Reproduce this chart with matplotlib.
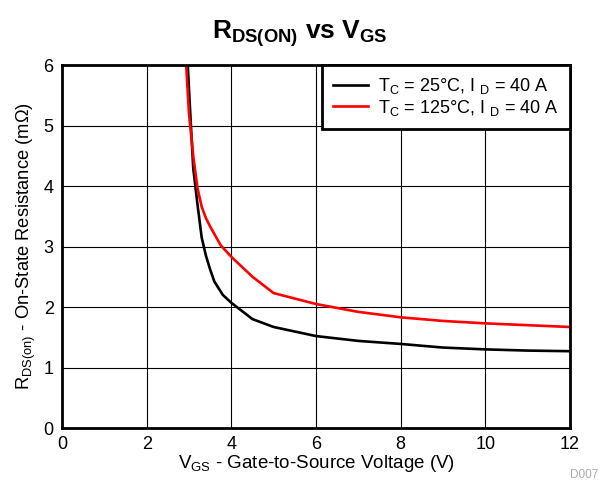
import matplotlib
matplotlib.use('Agg')
import matplotlib.pyplot as plt

# Data
vgs_25 = [2.9, 3.0, 3.1, 3.2, 3.3, 3.4, 3.5, 3.6, 3.8, 4.0, 4.5, 5, 6, 7, 8, 9, 10, 11, 12]
rds_25 = [7.0, 5.6, 4.3, 3.7, 3.15, 2.85, 2.62, 2.42, 2.2, 2.07, 1.8, 1.67, 1.52, 1.44, 1.39, 1.33, 1.30, 1.28, 1.27]

vgs_125 = [2.85, 2.95, 3.0, 3.1, 3.2, 3.3, 3.4, 3.5, 3.75, 4.0, 4.5, 5, 6, 7, 8, 9, 10, 11, 12]
rds_125 = [7.0, 5.8, 5.2, 4.5, 3.97, 3.66, 3.47, 3.33, 3.02, 2.83, 2.5, 2.23, 2.05, 1.92, 1.83, 1.77, 1.73, 1.70, 1.67]

x_ticks = [0, 2, 4, 6, 8, 10, 12]
y_ticks = [0, 1, 2, 3, 4, 5, 6]

plt.rcParams['font.family'] = ['Liberation Sans', 'DejaVu Sans']
plt.rcParams['mathtext.fontset'] = 'custom'
plt.rcParams['mathtext.rm'] = 'Liberation Sans'
plt.rcParams['mathtext.bf'] = 'Liberation Sans:bold'

fig = plt.figure(figsize=(6, 4.82), dpi=100)
ax = fig.add_axes([0.1033, 0.112, 0.8467, 0.753])

ax.plot(vgs_25, rds_25, color='black', lw=1.9, label=r'T$_\mathregular{C}$ = 25°C, I $_\mathregular{D}$ = 40 A')
ax.plot(vgs_125, rds_125, color='red', lw=1.9, label=r'T$_\mathregular{C}$ = 125°C, I $_\mathregular{D}$ = 40 A')

ax.set_xlim(0, 12)
ax.set_ylim(0, 6)
ax.set_xticks(x_ticks)
ax.set_yticks(y_ticks)
ax.tick_params(length=0, labelsize=13, pad=6)
ax.grid(True, color='black', lw=0.8)
for s in ax.spines.values():
    s.set_linewidth(2)

ax.set_xlabel(r'V$_\mathregular{GS}$ - Gate-to-Source Voltage (V)', fontsize=13.5, labelpad=0)
ax.set_ylabel(r'R$_\mathregular{DS(on)}$ - On-State Resistance (mΩ)', fontsize=13.2, labelpad=4)
fig.suptitle(r'R$_\mathbf{DS(ON)}$ vs V$_\mathbf{GS}$', fontsize=19, fontweight='bold', y=0.962)

leg = ax.legend(loc='upper right', fontsize=13.0, borderaxespad=0, fancybox=False,
                framealpha=1, edgecolor='black', handlelength=1.9, handletextpad=0.6,
                labelspacing=0.1, borderpad=0.6)
leg.get_frame().set_linewidth(2)

fig.text(0.998, 0.002, 'D007', fontsize=8.5, color='#aaaaaa', ha='right', va='bottom')

plt.savefig('out.png', dpi=100)
